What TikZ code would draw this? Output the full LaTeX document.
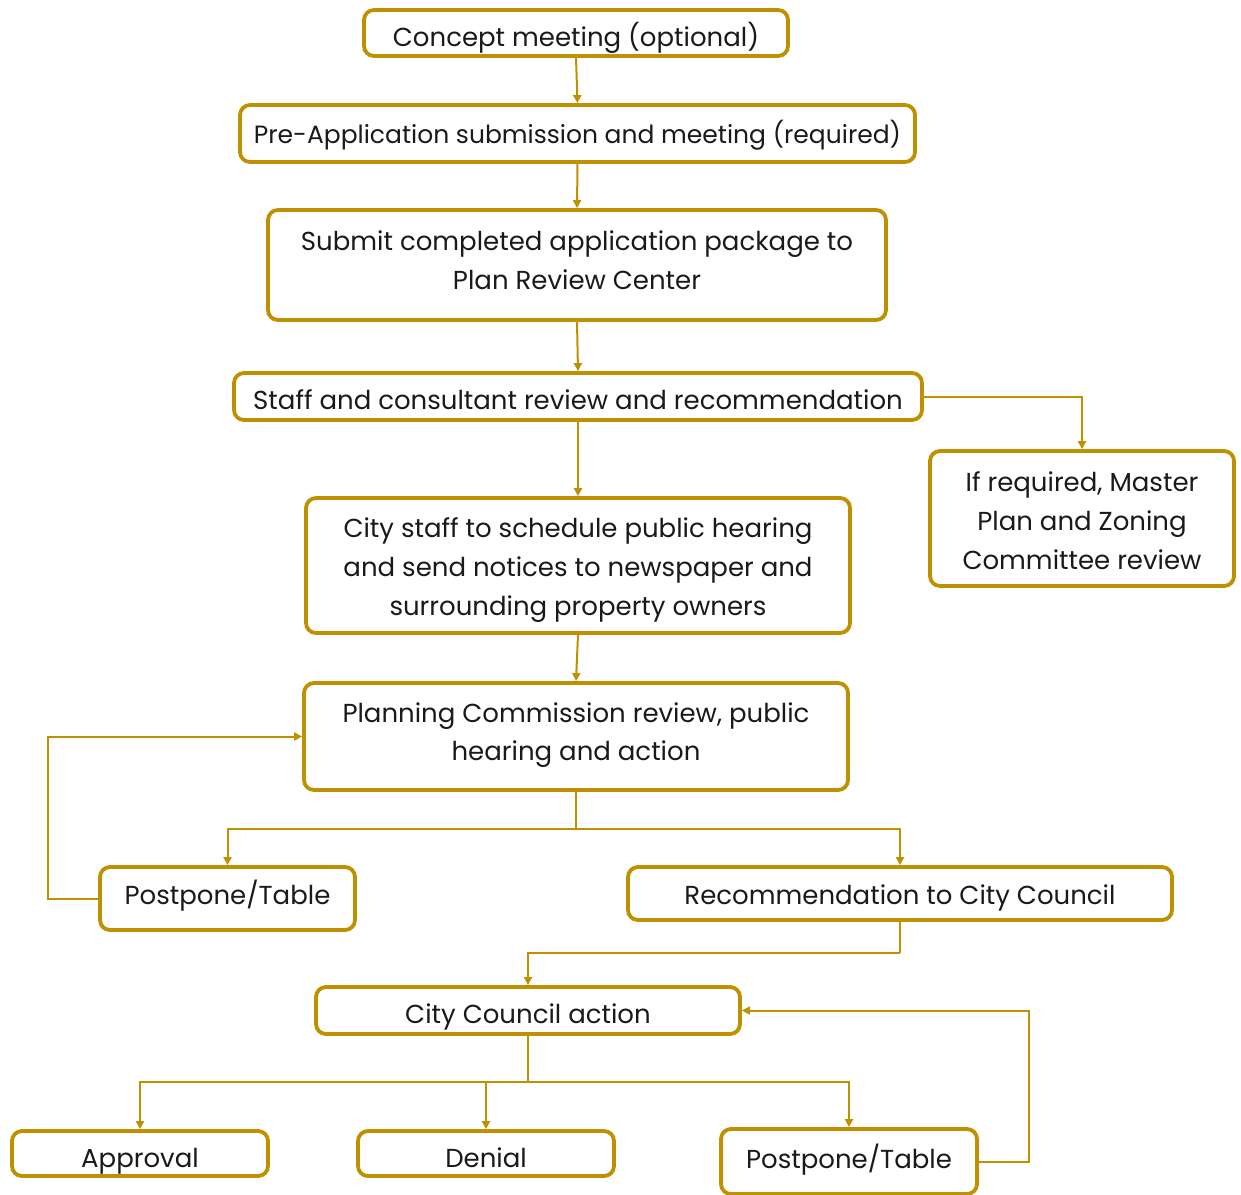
\documentclass[tikz,border=0pt]{standalone}
\usepackage{fontspec}
\setmainfont{Poppins}
\usetikzlibrary{arrows.meta}
\definecolor{gold}{HTML}{BF9000}
\definecolor{ink}{HTML}{1A1A1A}
\begin{document}
\begin{tikzpicture}[x=1pt,y=-1pt,
  box/.style={draw=gold, line width=3.8pt, rounded corners=10pt, fill=white, inner sep=0pt},
  txt/.style={anchor=base, inner sep=0pt, text=ink, font=\fontsize{26}{39}\selectfont},
  conn/.style={draw=gold, line width=2pt, -{Triangle[length=8pt,width=8pt]}},
  link/.style={draw=gold, line width=2pt}]
\useasboundingbox (0,0) rectangle (1241,1194);
% boxes
\node[box, minimum width=424pt, minimum height=46pt] (n1) at (576,33) {};
\node[box, minimum width=675pt, minimum height=57pt] (n2) at (577.5,133.5) {};
\node[box, minimum width=618pt, minimum height=110pt] (n3) at (577,265) {};
\node[box, minimum width=688pt, minimum height=47pt] (n4) at (578,396.5) {};
\node[box, minimum width=304pt, minimum height=135pt] (n5) at (1082,518.5) {};
\node[box, minimum width=544pt, minimum height=135pt] (n6) at (578,565.5) {};
\node[box, minimum width=544pt, minimum height=107pt] (n7) at (576,736.5) {};
\node[box, minimum width=255pt, minimum height=63pt] (n8) at (227.5,898.5) {};
\node[box, minimum width=544pt, minimum height=53pt] (n9) at (900,893.5) {};
\node[box, minimum width=424pt, minimum height=47pt] (n10) at (528,1010.5) {};
\node[box, minimum width=256pt, minimum height=45pt] (n11) at (140,1153.5) {};
\node[box, minimum width=256pt, minimum height=45pt] (n12) at (486,1153.5) {};
\node[box, minimum width=256pt, minimum height=65pt] (n13) at (849,1161.5) {};
% texts
\node[txt] (t1) at (576,46.5) {Concept meeting (optional)};
\node[txt, font=\fontsize{25}{39}\selectfont] (t2) at (577.5,143) {Pre-Application submission and meeting (required)};
\node[txt] (t3a) at (577,250) {Submit completed application package to};
\node[txt] (t3b) at (577,289) {Plan Review Center};
\node[txt] (t4) at (578,409) {Staff and consultant review and recommendation};
\node[txt] (t5a) at (1082,491) {If required, Master};
\node[txt] (t5b) at (1082,530) {Plan and Zoning};
\node[txt] (t5c) at (1082,569) {Committee review};
\node[txt] (t6a) at (578,537) {City staff to schedule public hearing};
\node[txt] (t6b) at (578,576) {and send notices to newspaper and};
\node[txt] (t6c) at (578,615) {surrounding property owners};
\node[txt] (t7a) at (576,722) {Planning Commission review, public};
\node[txt] (t7b) at (576,760) {hearing and action};
\node[txt] (t8) at (227.5,904) {Postpone/Table};
\node[txt] (t9) at (900,904) {Recommendation to City Council};
\node[txt] (t10) at (528,1023) {City Council action};
\node[txt] (t11) at (140,1167) {Approval};
\node[txt] (t12) at (486,1167) {Denial};
\node[txt] (t13) at (849,1168) {Postpone/Table};
% connectors
\coordinate (j7) at (576,829);
\coordinate (j9) at (900,953);
\coordinate (j10) at (528,1082);
\draw[conn] (n1.south) -- (n2.north);
\draw[conn] (n2.south) -- (n3.north);
\draw[conn] (n3.south) -- (n4.north);
\draw[conn] (n4.south) -- (n6.north);
\draw[conn] (n4.east) -| (n5.north);
\draw[conn] (n6.south) -- (n7.north);
\draw[link] (n7.south) -- (j7);
\draw[conn] (j7) -| (n8.north);
\draw[conn] (j7) -| (n9.north);
\draw[conn] (n8.west) -- ++(-50,0) |- (n7.west);
\draw[link] (n9.south) -- (j9);
\draw[conn] (j9) -| (n10.north);
\draw[link] (n10.south) -- (j10);
\draw[conn] (j10) -| (n11.north);
\draw[conn] (j10) -| (n12.north);
\draw[conn] (j10) -| (n13.north);
\draw[conn] (n13.east) -- ++(50,0) |- (n10.east);
\end{tikzpicture}
\end{document}
